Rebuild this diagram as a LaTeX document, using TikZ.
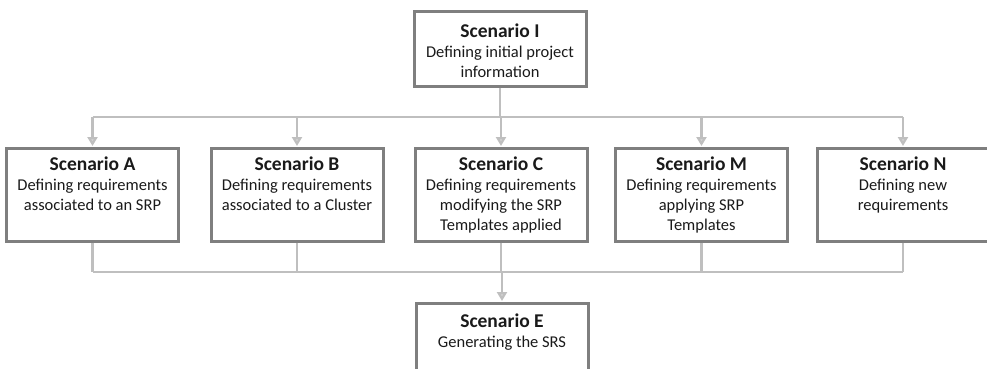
\documentclass[tikz,border=0pt]{standalone}
\usepackage{fontspec}
\setmainfont{Carlito}
\usetikzlibrary{arrows.meta}
\definecolor{boxline}{HTML}{7F7F7F}
\definecolor{connline}{HTML}{BFBFBF}
\definecolor{txt}{HTML}{1A1A1A}
\newcommand{\scntitle}[1]{{\fontsize{19.5}{20}\selectfont\bfseries #1}}
\begin{document}
\begin{tikzpicture}[x=1pt,y=-1pt,
  box/.style={draw=boxline,line width=3pt,fill=white,minimum width=172pt,inner sep=0pt},
  label/.style={anchor=north,align=center,text=txt,font=\fontsize{16.5}{20}\selectfont,inner sep=0pt},
  conn/.style={draw=connline,line width=2.2pt},
  arr/.style={conn,-{Triangle[width=10pt,length=9pt,fill=connline!70]}, shorten >=0.5pt}]
\useasboundingbox (0,0) rectangle (987,369);
\clip (0,0) rectangle (987,369);
% boxes
\node[box,minimum height=74pt] (I) at (500,49) {};
\node[box,minimum height=93pt] (A) at (92.5,194.5) {};
\node[box,minimum height=93pt] (B) at (297,194.5) {};
\node[box,minimum height=93pt] (C) at (501,194.5) {};
\node[box,minimum height=93pt] (M) at (701.5,194.5) {};
\node[box,minimum height=93pt] (N) at (903,194.5) {};
\node[box,minimum height=74pt] (E) at (502,340) {};
% texts, placed from the top of their first line
\node[label] (tI) at (500,24) {\scntitle{Scenario I}\\Defining initial project\\information};
\node[label] (tA) at (92.5,157) {\scntitle{Scenario A}\\Defining requirements\\associated to an SRP};
\node[label] (tB) at (297,157) {\scntitle{Scenario B}\\Defining requirements\\associated to a Cluster};
\node[label] (tC) at (501,157) {\scntitle{Scenario C}\\Defining requirements\\modifying the SRP\\Templates applied};
\node[label] (tM) at (701.5,157) {\scntitle{Scenario M}\\Defining requirements\\applying SRP\\Templates};
\node[label] (tN) at (903,157) {\scntitle{Scenario N}\\Defining new\\requirements};
\node[label] (tE) at (502,314) {\scntitle{Scenario E}\\Generating the SRS};
% distribution from I
\coordinate (top) at (0,117);
\coordinate (bot) at (0,272);
\draw[conn] (I.south) -- (I.south |- top);
\draw[conn] (A.north |- top) -- (N.north |- top);
\foreach \n in {A,B,C,M,N} \draw[arr] (\n.north |- top) -- (\n.north);
% collection into E
\foreach \n in {A,B,C,M,N} \draw[conn] (\n.south) -- (\n.south |- bot);
\draw[conn] (A.south |- bot) -- (N.south |- bot);
\draw[arr] (E.north |- bot) -- (E.north);
\end{tikzpicture}
\end{document}
